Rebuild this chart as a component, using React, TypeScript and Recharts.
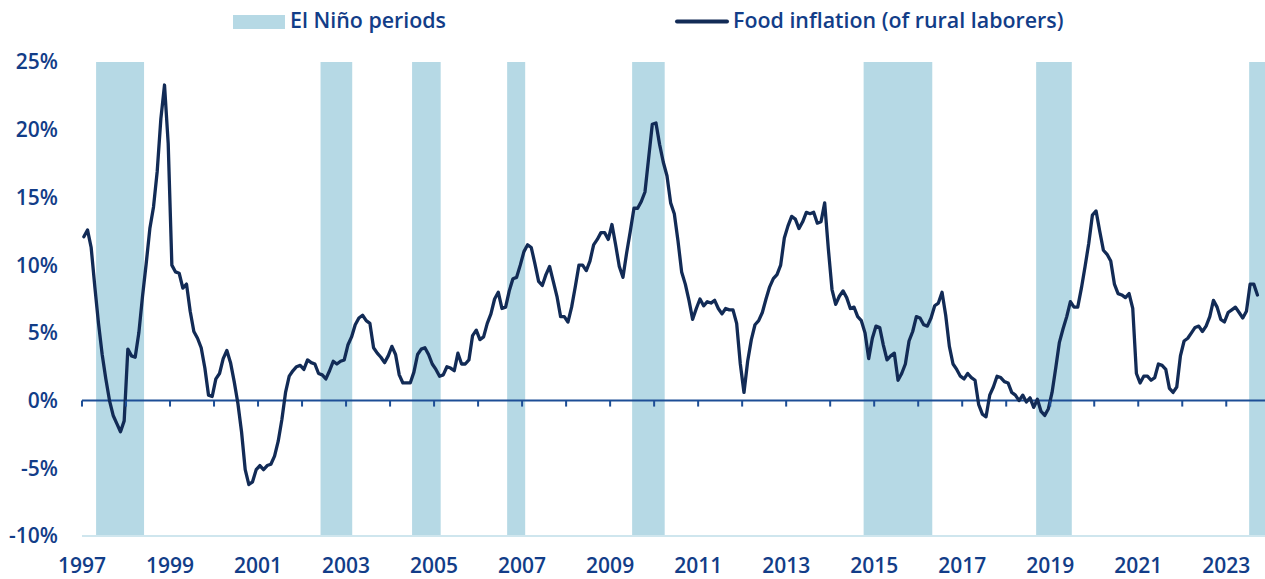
import React from "react";
import { ComposedChart, Line, XAxis, YAxis, ReferenceArea, ReferenceLine, ReferenceDot } from "recharts";

const FONT = "'Open Sans', Lato, sans-serif";
const TEXT_BLUE = "#123d88";
const LINE_NAVY = "#122b56";
const ZERO_BLUE = "#1d4e96";
const BAND_BLUE = "#b6d9e5";

const START_YEAR = 1997;

// monthly food inflation of rural laborers, % y/y, Jan 1997 .. Sep 2023
const foodInflation = [
  12.1, 12.6, 11.3, 8.4, 5.7, 3.4, 1.6, 0.0, -1.1, -1.7, -2.3, -1.5, // 1997
  3.8, 3.3, 3.2, 5.0, 7.7, 10.1, 12.7, 14.3, 16.9, 20.8, 23.3, 19.0, // 1998
  10.0, 9.5, 9.4, 8.3, 8.6, 6.6, 5.1, 4.6, 3.9, 2.4, 0.4, 0.3, // 1999
  1.6, 2.0, 3.1, 3.7, 2.8, 1.4, -0.2, -2.3, -5.1, -6.2, -6.0, -5.1, // 2000
  -4.8, -5.1, -4.8, -4.7, -4.1, -3.0, -1.4, 0.6, 1.8, 2.2, 2.5, 2.6, // 2001
  2.3, 3.0, 2.8, 2.7, 2.0, 1.9, 1.6, 2.2, 2.9, 2.7, 2.9, 3.0, // 2002
  4.1, 4.7, 5.6, 6.1, 6.3, 5.9, 5.7, 3.9, 3.5, 3.2, 2.8, 3.3, // 2003
  4.0, 3.4, 1.9, 1.3, 1.3, 1.3, 2.1, 3.4, 3.8, 3.9, 3.4, 2.7, // 2004
  2.3, 1.8, 1.9, 2.5, 2.4, 2.2, 3.5, 2.7, 2.7, 3.0, 4.8, 5.2, // 2005
  4.5, 4.7, 5.7, 6.4, 7.5, 8.0, 6.8, 6.9, 8.1, 9.0, 9.1, 10.0, // 2006
  11.0, 11.5, 11.3, 10.1, 8.8, 8.5, 9.3, 9.9, 8.8, 7.7, 6.2, 6.2, // 2007
  5.8, 6.9, 8.4, 10.0, 10.0, 9.6, 10.3, 11.5, 11.9, 12.4, 12.4, 11.9, // 2008
  13.0, 11.5, 9.9, 9.1, 10.9, 12.5, 14.2, 14.2, 14.7, 15.4, 17.9, 20.4, // 2009
  20.5, 18.9, 17.6, 16.6, 14.6, 13.8, 11.8, 9.5, 8.6, 7.4, 6.0, 6.8, // 2010
  7.5, 7.0, 7.3, 7.2, 7.4, 6.8, 6.4, 6.8, 6.7, 6.7, 5.7, 2.7, // 2011
  0.6, 2.9, 4.5, 5.6, 5.9, 6.5, 7.5, 8.4, 9.0, 9.3, 10.0, 12.0, // 2012
  12.9, 13.6, 13.4, 12.7, 13.2, 13.9, 13.8, 13.9, 13.1, 13.2, 14.6, 11.2, // 2013
  8.2, 7.1, 7.7, 8.1, 7.6, 6.8, 6.9, 6.2, 5.9, 5.0, 3.1, 4.6, // 2014
  5.5, 5.4, 4.1, 3.0, 3.3, 3.5, 1.5, 2.0, 2.7, 4.4, 5.1, 6.2, // 2015
  6.1, 5.6, 5.5, 6.1, 7.0, 7.2, 8.0, 6.3, 4.0, 2.7, 2.3, 1.8, // 2016
  1.6, 2.0, 1.7, 1.5, -0.3, -1.0, -1.2, 0.4, 1.0, 1.8, 1.7, 1.4, // 2017
  1.3, 0.6, 0.4, 0.0, 0.4, -0.1, 0.2, -0.5, 0.1, -0.8, -1.1, -0.6, // 2018
  0.6, 2.4, 4.3, 5.3, 6.2, 7.3, 6.9, 6.9, 8.3, 9.9, 11.6, 13.7, // 2019
  14.0, 12.5, 11.1, 10.8, 10.3, 8.6, 7.9, 7.8, 7.6, 7.9, 6.8, 2.0, // 2020
  1.3, 1.8, 1.8, 1.5, 1.7, 2.7, 2.6, 2.3, 0.9, 0.6, 1.0, 3.3, // 2021
  4.4, 4.6, 5.0, 5.4, 5.5, 5.1, 5.5, 6.2, 7.4, 6.9, 6.0, 5.8, // 2022
  6.5, 6.7, 6.9, 6.5, 6.1, 6.6, 8.6, 8.6, 7.8, // 2023
];

// El Niño periods, in fractional years
const elNinoStart = [1997.32, 2002.42, 2004.5, 2006.66, 2009.5, 2014.76, 2018.68, 2023.52];
const elNinoEnd = [1998.41, 2003.14, 2005.15, 2007.07, 2010.24, 2016.32, 2019.49, 2023.88];

const xDomain = [1997, 2023.88];
const yTicks = [-10, -5, 0, 5, 10, 15, 20, 25];
const labelYears = [1997, 1999, 2001, 2003, 2005, 2007, 2009, 2011, 2013, 2015, 2017, 2019, 2021, 2023];
const tickYears = Array.from({ length: 27 }, (_, i) => 1997 + i);

const data = foodInflation.map((v, i) => ({
  t: START_YEAR + (i + 0.5) / 12,
  food: v,
}));

const tickStyle = { fill: TEXT_BLUE, fontSize: 21, fontFamily: FONT, fontWeight: 600 };

// short downward mark on the zero line, placed by the chart scales
const YearMark = (p: any) => (
  <rect x={p.cx - 1} y={p.cy} width={2} height={6} fill={ZERO_BLUE} />
);

function LegendOverlay() {
  return (
    <svg
      width={1265}
      height={45}
      style={{ position: "absolute", left: 0, top: 0, pointerEvents: "none" }}
    >
      <rect x={233} y={15} width={52} height={14} fill={BAND_BLUE} />
      <text x={290} y={27.5} fill={TEXT_BLUE} fontSize={21.4} fontFamily={FONT} fontWeight={600}>
        El Niño periods
      </text>
      <line x1={677} x2={727} y1={21.5} y2={21.5} stroke={LINE_NAVY} strokeWidth={4} strokeLinecap="round" />
      <text x={733} y={27.5} fill={TEXT_BLUE} fontSize={21.4} fontFamily={FONT} fontWeight={600}>
        Food inflation (of rural laborers)
      </text>
    </svg>
  );
}

export default function App() {
  return (
    <div style={{ position: "absolute", left: 0, top: 0, width: 1265, height: 579, background: "#fff" }}>
      <ComposedChart
        width={1265}
        height={579}
        data={data}
        margin={{ top: 62, right: 0, bottom: 15, left: 0 }}
      >
        <XAxis
          dataKey="t"
          type="number"
          domain={xDomain}
          allowDataOverflow
          ticks={labelYears}
          tickFormatter={(v) => String(Math.round(v))}
          axisLine={false}
          tickLine={false}
          tickSize={0}
          tickMargin={22}
          height={28}
          tick={tickStyle}
          interval={0}
        />
        <YAxis
          domain={[-10, 25]}
          ticks={yTicks}
          tickFormatter={(v) => `${v}%`}
          axisLine={false}
          tickLine={false}
          tickSize={0}
          tickMargin={24}
          width={82}
          tick={tickStyle}
          interval={0}
        />
        <ReferenceLine y={-10} stroke="#cfe6ee" strokeWidth={2} />
        {elNinoStart.map((s, i) => (
          <ReferenceArea
            key={`b${i}`}
            x1={s}
            x2={elNinoEnd[i]}
            y1={-10}
            y2={25}
            fill={BAND_BLUE}
            fillOpacity={1}
            stroke="none"
            ifOverflow="hidden"
          />
        ))}
        <ReferenceLine y={0} stroke={ZERO_BLUE} strokeWidth={2} />
        {tickYears.map((yr) => (
          <ReferenceDot
            key={`m${yr}`}
            x={yr}
            y={0}
            r={1}
            ifOverflow="visible"
            shape={YearMark}
          />
        ))}
        <Line
          type="linear"
          dataKey="food"
          stroke={LINE_NAVY}
          strokeWidth={3.3}
          strokeLinejoin="round"
          strokeLinecap="round"
          dot={false}
          activeDot={false}
          isAnimationActive={false}
        />
      </ComposedChart>
      <LegendOverlay />
    </div>
  );
}
